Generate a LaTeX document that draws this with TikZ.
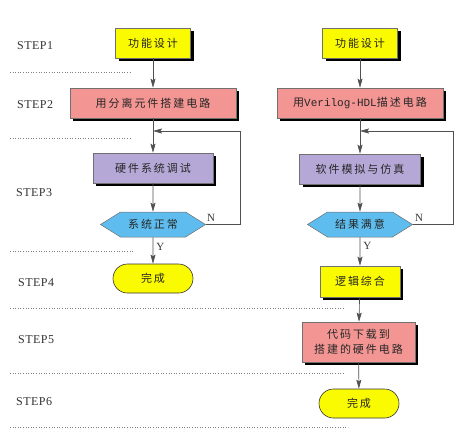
\documentclass[tikz,border=0pt]{standalone}
\usepackage{fontspec}
\usetikzlibrary{arrows.meta,shadows,shapes.geometric,shapes.misc,shapes.symbols}
\newfontfamily\cjk[LetterSpace=18]{Noto Sans CJK SC}
\newfontfamily\lat{Liberation Mono}
\newfontfamily\stepfont[LetterSpace=4]{Liberation Serif}
\definecolor{cyel}{HTML}{FAFA00}
\definecolor{cpink}{HTML}{F39693}
\definecolor{cpurp}{HTML}{B6A8D6}
\definecolor{cblue}{HTML}{5EBDEE}
\definecolor{cedge}{HTML}{707070}
\definecolor{cline}{HTML}{505050}
\tikzset{
  x=1pt,y=-1pt,
  boxbase/.style={draw=cedge,line width=0.5pt,inner sep=0pt,align=center,
    font=\cjk\fontsize{11}{15}\selectfont,text=black!85,
    drop shadow={shadow xshift=3pt,shadow yshift=-3pt,fill=black,opacity=1}},
  ybox/.style={boxbase,fill=cyel},
  pbox/.style={boxbase,fill=cpink},
  vbox/.style={boxbase,fill=cpurp},
  term/.style={draw=black!80,line width=0.6pt,fill=cyel,rounded rectangle,inner sep=0pt,
    font=\cjk\fontsize{11}{15}\selectfont,text=black!85},
  hexa/.style={draw=cedge,line width=0.5pt,fill=cblue,signal,signal to=west and east,
    signal pointer angle=64,inner sep=0pt,font=\cjk\fontsize{11}{15}\selectfont,text=black!85},
  steplbl/.style={anchor=west,font=\stepfont\fontsize{12}{14}\selectfont,text=black!80,inner sep=0pt},
  yn/.style={font=\stepfont\fontsize{11}{12}\selectfont,text=black!80,inner sep=0pt},
  flow/.style={draw=cline,line width=0.6pt,-{Stealth[length=9pt,width=5pt,inset=1.5pt]}},
  plain/.style={draw=cline,line width=0.6pt},
  sep/.style={draw=gray,line width=0.6pt,dotted}
}
\begin{document}
\begin{tikzpicture}
\useasboundingbox (0,0) rectangle (466,442);
\fill[white] (0,0) rectangle (466,442);
% step labels
\node[steplbl] (s1) at (17,46) {STEP1};
\node[steplbl] (s2) at (17,105) {STEP2};
\node[steplbl] (s3) at (16,193) {STEP3};
\node[steplbl] (s4) at (18,283) {STEP4};
\node[steplbl] (s5) at (18,340) {STEP5};
\node[steplbl] (s6) at (16,402) {STEP6};
% separators
\coordinate (d1a) at (10,72);  \coordinate (d1b) at (130,72);
\coordinate (d2a) at (10,138); \coordinate (d2b) at (130,138);
\coordinate (d3a) at (10,251); \coordinate (d3b) at (133,251);
\coordinate (d4a) at (10,308); \coordinate (d4b) at (345,308);
\coordinate (d5a) at (10,373); \coordinate (d5b) at (345,373);
\coordinate (d6a) at (10,427); \coordinate (d6b) at (348,427);
\draw[sep] (d1a) -- (d1b);
\draw[sep] (d2a) -- (d2b);
\draw[sep] (d3a) -- (d3b);
\draw[sep] (d4a) -- (d4b);
\draw[sep] (d5a) -- (d5b);
\draw[sep] (d6a) -- (d6b);
% left column
\node[ybox,minimum width=75pt,minimum height=30pt] (l1) at (153,43) {功能设计};
\node[pbox,minimum width=166pt,minimum height=30pt] (l2) at (153,103) {用分离元件搭建电路};
\node[vbox,minimum width=120pt,minimum height=30pt] (l3) at (153,168) {硬件系统调试};
\node[hexa,minimum width=105pt,minimum height=25pt] (l4) at (153,224.5) {系统正常};
\node[term,minimum width=80pt,minimum height=29pt] (l5) at (153,278.5) {完成};
% right column
\node[ybox,minimum width=75pt,minimum height=30pt] (r1) at (360,43) {功能设计};
\node[pbox,minimum width=166pt,minimum height=30pt] (r2) at (360,103) {用{\lat Verilog-HDL}描述电路};
\node[vbox,minimum width=121pt,minimum height=30pt] (r3) at (360,169) {软件模拟与仿真};
\node[hexa,minimum width=105pt,minimum height=25pt] (r4) at (360,224.5) {结果满意};
\node[ybox,minimum width=80pt,minimum height=31pt] (r5) at (360,281.5) {逻辑综合};
\node[pbox,minimum width=113pt,minimum height=40pt] (r6) at (358.5,342) {代码下载到\\搭建的硬件电路};
\node[term,minimum width=80pt,minimum height=29pt] (r7) at (359,403.5) {完成};
% left connectors
\coordinate (lj) at (153,131);
\coordinate (lc1) at (240,224.5);
\coordinate (lc2) at (240,131);
\draw[flow] (l1) -- (l2);
\draw[flow] (l2) -- (l3);
\draw[flow] (l3) -- (l4);
\draw[flow] (l4) -- node[yn,right=3pt,pos=0.35] (ly) {Y} (l5);
\draw[plain] (l4.east) -- node[yn,above=3pt,pos=0.15] (ln) {N} (lc1) -- (lc2);
\draw[flow] (lc2) -- (lj);
% right connectors
\coordinate (rj) at (360,131);
\coordinate (rc1) at (453,224.5);
\coordinate (rc2) at (453,131);
\draw[flow] (r1) -- (r2);
\draw[flow] (r2) -- (r3);
\draw[flow] (r3) -- (r4);
\draw[flow] (r4) -- node[yn,right=3pt,pos=0.3] (ry) {Y} (r5);
\draw[flow] (r5) -- (r6);
\draw[flow] (r6) -- (r7);
\draw[plain] (r4.east) -- node[yn,above=3pt,pos=0.15] (rn) {N} (rc1) -- (rc2);
\draw[flow] (rc2) -- (rj);
\end{tikzpicture}
\end{document}
